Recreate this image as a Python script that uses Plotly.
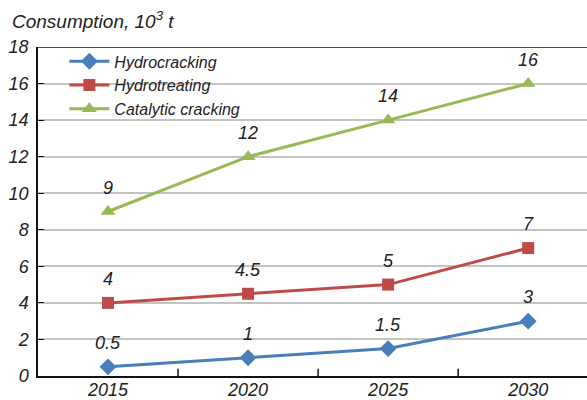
import plotly.graph_objects as go

years = ["2015", "2020", "2025", "2030"]
hydrocracking = [0.5, 1, 1.5, 3]
hydrotreating = [4, 4.5, 5, 7]
catalytic = [9, 12, 14, 16]
labels_hc = ["0.5", "1", "1.5", "3"]
labels_ht = ["4", "4.5", "5", "7"]
labels_cc = ["9", "12", "14", "16"]

FONT = "Liberation Sans, Arial, sans-serif"
series = [
    ("Hydrocracking", hydrocracking, labels_hc, "#4a7ebb", "diamond", 13),
    ("Hydrotreating", hydrotreating, labels_ht, "#be4b48", "square", 12),
    ("Catalytic cracking", catalytic, labels_cc, "#98b954", "triangle-up", 13),
]

fig = go.Figure()
annotations = []
for name, vals, labs, color, sym, size in series:
    fig.add_trace(go.Scatter(
        x=list(range(len(years))), y=vals, name=name, mode="lines+markers",
        line=dict(color=color, width=3),
        marker=dict(symbol=sym, size=size, color=color),
    ))
    for i, (yv, t) in enumerate(zip(vals, labs)):
        annotations.append(dict(x=i, y=yv, text="<i>" + t + "</i>", showarrow=False,
                                yshift=24, xref="x", yref="y",
                                font=dict(family=FONT, size=18, color="#222")))

fig.update_layout(
    width=587, height=400,
    margin=dict(l=38, r=0, t=47, b=24),
    paper_bgcolor="white", plot_bgcolor="white",
    font=dict(family=FONT, size=17, color="#222"),
    title=dict(text="<i>Consumption, 10<sup>3</sup> t</i>", x=12 / 587, xref="container",
               xanchor="left", y=1 - 21 / 400, yref="container", yanchor="middle",
               font=dict(family=FONT, size=19, color="#222")),
    showlegend=True,
    legend=dict(x=0.048, y=1.008, xanchor="left", yanchor="top", bgcolor="rgba(0,0,0,0)",
                font=dict(family=FONT, size=16, color="#222", style="italic"),
                tracegroupgap=0, itemwidth=40),
    annotations=annotations,
    xaxis=dict(range=[-0.5, 3.42], showgrid=False, zeroline=False, automargin=False,
               tickmode="array", tickvals=list(range(len(years))),
               ticktext=["<i>" + y + "</i>" for y in years],
               showline=True, linecolor="#111", linewidth=1.5, ticklabelstandoff=-3,
               ticks="", tickfont=dict(family=FONT, size=18, color="#222")),
    yaxis=dict(range=[0, 18], dtick=2, showgrid=True, gridcolor="#c4c4c4", gridwidth=1.5,
               automargin=False,
               showline=True, linecolor="#111", linewidth=1.5, ticks="inside", ticklen=6,
               tickcolor="#111", zeroline=False, ticklabelstandoff=4,
               tickfont=dict(family=FONT, size=18, color="#222", style="italic")),
    shapes=[dict(type="line", xref="paper", yref="y", x0=0, x1=1, y0=18, y1=18,
                 line=dict(color="#111", width=1.5))] +
           [dict(type="line", xref="x", yref="paper", x0=i + 0.5, x1=i + 0.5, y0=0, y1=0.022,
                 line=dict(color="#111", width=1.5)) for i in range(len(years) - 1)],
)

fig.write_html("out.html")
